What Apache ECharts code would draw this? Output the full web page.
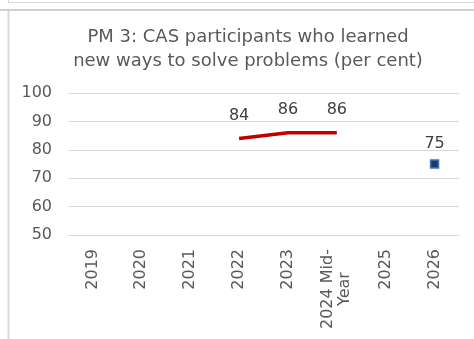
<!DOCTYPE html>
<html>
<head>
<meta charset="utf-8">
<script src="https://cdn.jsdelivr.net/npm/echarts@6/dist/echarts.min.js"></script>
<style>
html,body{margin:0;padding:0;background:#fff;}
#chart{width:474px;height:339px;}
</style>
</head>
<body>
<div id="chart"></div>
<script>
var titleText = 'PM 3: CAS participants who learned\nnew ways to solve problems (per cent)';
var categories = ['2019', '2020', '2021', '2022', '2023', '2024 Mid-\nYear', '2025', '2026'];
var actualValues = [null, null, null, 84, 86, 86, null, null];
var targetValues = [null, null, null, null, null, null, null, 75];
var yTicks = {min: 50, max: 100, interval: 10};

var FONT = 'DejaVu Sans';
var chart = echarts.init(document.getElementById('chart'));
chart.setOption({
  animation: false,
  backgroundColor: '#ffffff',
  title: {
    text: titleText,
    left: 243,
    top: 20,
    textAlign: 'center',
    textStyle: {fontFamily: FONT, fontSize: 18, fontWeight: 'normal', color: '#595959', lineHeight: 24}
  },
  graphic: [
    {type: 'line', shape: {x1: 8.5, y1: 0, x2: 8.5, y2: 3}, style: {stroke: '#d9d9d9', lineWidth: 1}},
    {type: 'line', shape: {x1: 8, y1: 2.5, x2: 474, y2: 2.5}, style: {stroke: '#d9d9d9', lineWidth: 1}},
    {type: 'line', shape: {x1: 0, y1: 10, x2: 474, y2: 10}, style: {stroke: '#d0d0d0', lineWidth: 2}},
    {type: 'line', shape: {x1: 8.5, y1: 11, x2: 8.5, y2: 339}, style: {stroke: '#d9d9d9', lineWidth: 2}}
  ],
  grid: {left: 68, right: 15, top: 93, bottom: 104, containLabel: false},
  xAxis: {
    type: 'category',
    data: categories,
    boundaryGap: true,
    axisLine: {show: true, lineStyle: {color: '#d9d9d9', width: 1}},
    axisTick: {show: false},
    axisLabel: {
      interval: 0,
      rotate: 90,
      margin: 14,
      fontFamily: FONT,
      fontSize: 16,
      color: '#595959',
      lineHeight: 17,
      formatter: function (v) {
        return v.split('\n').map(function (s) { return '{c|' + s + '}'; }).join('\n');
      },
      rich: {c: {align: 'center', fontFamily: FONT, fontSize: 16, color: '#595959', lineHeight: 17}}
    }
  },
  yAxis: {
    type: 'value',
    min: yTicks.min,
    max: yTicks.max,
    interval: yTicks.interval,
    axisLine: {show: false},
    axisTick: {show: false},
    splitLine: {lineStyle: {color: '#d9d9d9', width: 1}},
    axisLabel: {fontFamily: FONT, fontSize: 16, color: '#595959', margin: 16}
  },
  series: [
    {
      type: 'line',
      data: actualValues,
      showSymbol: true,
      showAllSymbol: true,
      symbol: 'circle',
      symbolSize: 2,
      itemStyle: {color: 'rgba(192,0,0,0)', borderWidth: 0},
      connectNulls: false,
      lineStyle: {color: '#c00000', width: 3.5},
      label: {
        show: true, position: 'top', distance: 14,
        fontFamily: FONT, fontSize: 16, color: '#404040'
      },
      z: 3
    },
    {
      type: 'line',
      data: targetValues,
      symbol: 'rect',
      symbolSize: 8,
      showAllSymbol: true,
      lineStyle: {width: 0},
      itemStyle: {color: '#1f3864', borderColor: '#4472c4', borderWidth: 1.5},
      label: {
        show: true, position: 'top', distance: 7,
        fontFamily: FONT, fontSize: 16, color: '#404040'
      },
      z: 4
    }
  ]
});
</script>
</body>
</html>
